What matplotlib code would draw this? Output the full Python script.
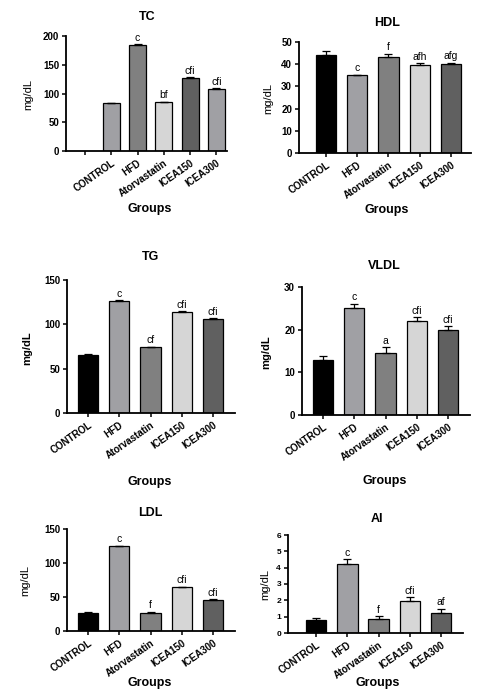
import matplotlib
matplotlib.use("Agg")
import matplotlib.pyplot as plt

plt.rcParams["font.family"] = ["Liberation Sans", "DejaVu Sans"]

W, H = 479, 692

GROUPS = ["CONTROL", "HFD", "Atorvastatin", "ICEA150", "ICEA300"]

# TC has an empty first slot, the bars sit one slot to the right
TC_MEAN = [None, 83, 185, 85, 127, 108]
TC_ERR = [None, 1.0, 1.2, 1.0, 1.0, 1.0]
TC_SIG = ["", "", "c", "bf", "cfi", "cfi"]

HDL_MEAN = [44.0, 35.0, 43.4, 39.8, 40.2]
HDL_ERR = [2.0, 0.3, 1.3, 0.6, 0.5]
HDL_SIG = ["", "c", "f", "afh", "afg"]

TG_MEAN = [65.5, 126.3, 74.2, 113.9, 106.0]
TG_ERR = [0.6, 0.8, 0.7, 0.8, 0.7]
TG_SIG = ["", "c", "cf", "cfi", "cfi"]

VLDL_MEAN = [12.9, 25.1, 14.6, 22.1, 20.0]
VLDL_ERR = [1.0, 1.0, 1.3, 0.8, 0.8]
VLDL_SIG = ["", "c", "a", "cfi", "cfi"]

LDL_MEAN = [26.5, 124.6, 26.4, 64.6, 45.5]
LDL_ERR = [0.8, 0.9, 2.2, 0.6, 1.8]
LDL_SIG = ["", "c", "f", "cfi", "cfi"]

AI_MEAN = [0.81, 4.22, 0.86, 1.98, 1.21]
AI_ERR = [0.09, 0.29, 0.17, 0.2, 0.29]
AI_SIG = ["", "c", "f", "cfi", "af"]

COLORS = ["#000000", "#a0a0a4", "#808080", "#d6d6d6", "#606060"]
TC_COLORS = ["#000000", "#a0a0a4", "#808080", "#d6d6d6", "#606060", "#a0a0a4"]


def fx(px):
    return px / W


def fy(py):
    return 1 - py / H


def panel(fig, box, xlim, ylim, yticks, means, errs, sigs, colors, labels,
          title, title_xy, xlab_xy, ylab_xy, ylab_bold, ytick_size=7):
    left, right, top, bottom = box
    ax = fig.add_axes([fx(left), fy(bottom), (right - left) / W, (bottom - top) / H])
    xs = list(range(len(means)))
    for x, m, e, c, s in zip(xs, means, errs, colors, sigs):
        if m is None:
            continue
        ax.bar(x, m, width=0.65, color=c, edgecolor="black", linewidth=0.9, zorder=2)
        ax.errorbar(x, m, yerr=[[0], [e]], fmt="none", ecolor="black",
                    elinewidth=0.9, capsize=3.2, capthick=0.9, zorder=3)
        if s:
            ax.text(x, m + e + (ylim[1] * 0.012), s, ha="center", va="bottom",
                    fontsize=7.5)
    ax.set_xlim(*xlim)
    ax.set_ylim(*ylim)
    ax.set_yticks(yticks)
    ax.set_yticklabels([str(t) for t in yticks], fontsize=ytick_size, fontweight="bold")
    ax.set_xticks(xs)
    shift = len(means) - len(labels)
    ax.set_xticklabels([""] * shift + labels, rotation=35, ha="right",
                       rotation_mode="anchor", fontsize=7, fontweight="bold")
    for side in ("top", "right"):
        ax.spines[side].set_visible(False)
    for side in ("left", "bottom"):
        ax.spines[side].set_linewidth(1.3)
    ax.tick_params(width=1.1, length=3, pad=2)
    ax.patch.set_alpha(0)

    fig.text(fx(title_xy[0]), fy(title_xy[1]), title, ha="center", va="center",
             fontsize=9, fontweight="bold")
    fig.text(fx(xlab_xy[0]), fy(xlab_xy[1]), "Groups", ha="center", va="center",
             fontsize=9, fontweight="bold")
    fig.text(fx(ylab_xy[0]), fy(ylab_xy[1]), "mg/dL", ha="center", va="center",
             rotation=90, fontsize=8, fontweight="bold" if ylab_bold else "normal")
    return ax


fig = plt.figure(figsize=(W / 100, H / 100), dpi=100)

panel(fig, (66, 227, 36, 151), (-0.72, 5.4), (0, 200), [0, 50, 100, 150, 200],
      TC_MEAN, TC_ERR, TC_SIG, TC_COLORS, GROUPS,
      "TC", (147, 17), (150, 209), (28, 94), False)

panel(fig, (299, 471, 42, 153), (-0.86, 4.64), (0, 50), [0, 10, 20, 30, 40, 50],
      HDL_MEAN, HDL_ERR, HDL_SIG, COLORS, GROUPS,
      "HDL", (387, 23), (387, 210), (268, 98), False)

panel(fig, (67, 235, 280, 413), (-0.67, 4.7), (0, 150), [0, 50, 100, 150],
      TG_MEAN, TG_ERR, TG_SIG, COLORS, GROUPS,
      "TG", (150, 257), (150, 482), (27, 348), True)

panel(fig, (302, 470, 287, 415), (-0.67, 4.7), (0, 30), [0, 10, 20, 30],
      VLDL_MEAN, VLDL_ERR, VLDL_SIG, COLORS, GROUPS,
      "VLDL", (384, 266), (385, 481), (266, 352), True)

panel(fig, (67, 235, 529, 631), (-0.67, 4.7), (0, 150), [0, 50, 100, 150],
      LDL_MEAN, LDL_ERR, LDL_SIG, COLORS, GROUPS,
      "LDL", (150, 513), (150, 683), (25, 580), False)

panel(fig, (288, 463, 535, 633), (-0.9, 4.7), (0, 6), [0, 1, 2, 3, 4, 5, 6],
      AI_MEAN, AI_ERR, AI_SIG, COLORS, GROUPS,
      "AI", (377, 519), (378, 683), (265, 585), False, ytick_size=6)

fig.savefig("out.png", dpi=100)
